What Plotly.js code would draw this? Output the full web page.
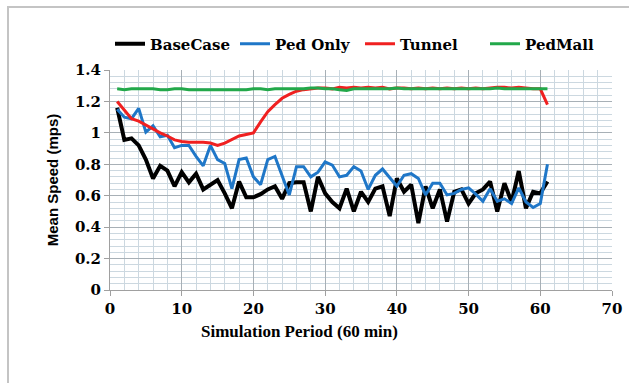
<!DOCTYPE html>
<html>
<head>
<meta charset="utf-8">
<script src="https://cdn.plot.ly/plotly-3.0.1.min.js"></script>
<style>html,body{margin:0;padding:0;background:#fff;}#chart{width:629px;height:383px;}</style>
</head>
<body>
<div id="chart"></div>
<script>
const periods = [1,2,3,4,5,6,7,8,9,10,11,12,13,14,15,16,17,18,19,20,21,22,23,24,25,26,27,28,29,30,31,32,33,34,35,36,37,38,39,40,41,42,43,44,45,46,47,48,49,50,51,52,53,54,55,56,57,58,59,60,61];

const baseCase = [1.16,0.955,0.965,0.92,0.83,0.71,0.79,0.76,0.66,0.75,0.685,0.74,0.64,0.67,0.70,0.615,0.52,0.69,0.59,0.59,0.61,0.64,0.66,0.58,0.68,0.685,0.685,0.50,0.72,0.615,0.56,0.52,0.645,0.50,0.625,0.56,0.645,0.66,0.47,0.71,0.625,0.67,0.425,0.66,0.52,0.64,0.435,0.625,0.64,0.55,0.615,0.64,0.69,0.50,0.68,0.56,0.757,0.52,0.625,0.615,0.69];

const pedOnly = [1.15,1.10,1.09,1.156,1.005,1.045,0.975,0.985,0.905,0.92,0.92,0.85,0.79,0.92,0.83,0.805,0.645,0.83,0.84,0.72,0.67,0.83,0.85,0.73,0.605,0.785,0.785,0.72,0.75,0.815,0.795,0.72,0.73,0.785,0.757,0.64,0.73,0.77,0.715,0.66,0.73,0.74,0.71,0.605,0.68,0.68,0.605,0.615,0.64,0.65,0.61,0.565,0.645,0.565,0.58,0.55,0.65,0.56,0.525,0.55,0.80];

const tunnel = [1.20,1.145,1.09,1.075,1.05,1.02,1.0,0.98,0.955,0.945,0.94,0.94,0.94,0.935,0.92,0.935,0.955,0.98,0.99,1.0,1.07,1.135,1.18,1.22,1.245,1.265,1.275,1.28,1.285,1.285,1.28,1.29,1.285,1.29,1.285,1.29,1.285,1.29,1.28,1.285,1.285,1.28,1.285,1.28,1.285,1.28,1.285,1.28,1.285,1.28,1.285,1.28,1.285,1.29,1.29,1.285,1.29,1.285,1.28,1.28,1.18];

const pedMall = [1.28,1.275,1.28,1.28,1.28,1.28,1.275,1.275,1.28,1.28,1.275,1.275,1.275,1.275,1.275,1.275,1.275,1.275,1.275,1.28,1.28,1.275,1.28,1.28,1.28,1.28,1.28,1.285,1.285,1.28,1.28,1.275,1.27,1.28,1.28,1.28,1.28,1.28,1.28,1.285,1.28,1.28,1.28,1.28,1.28,1.28,1.28,1.28,1.28,1.28,1.28,1.28,1.28,1.285,1.28,1.28,1.28,1.28,1.28,1.28,1.28];

const seriesNames = ['BaseCase','Ped Only','Tunnel','PedMall'];
const seriesColors = ['#000000','#1f77c8','#f02020','#22a84a'];
const seriesWidths = [4,3,3,3];
const seriesData = [baseCase, pedOnly, tunnel, pedMall];

const traces = seriesData.map((vals,i)=>({
  x: periods, y: vals, type:'scatter', mode:'lines', name: seriesNames[i],
  line:{color: seriesColors[i], width: seriesWidths[i]}
}));

const tickF = {family:'"DejaVu Serif", serif', size:15, color:'#000', weight:'bold'};

const layout = {
  width:629, height:383,
  margin:{l:110, r:17, t:70, b:93},
  paper_bgcolor:'#fff', plot_bgcolor:'#fff',
  showlegend:true,
  legend:{orientation:'h', x:0.0, xanchor:'left', y:1.118, yanchor:'middle',
    font:{family:'"DejaVu Serif", serif', size:15, color:'#000', weight:'bold'},
    bgcolor:'rgba(0,0,0,0)', itemwidth:30, tracegroupgap:0,
    entrywidth:80, entrywidthmode:'pixels'},
  xaxis:{range:[0,70], dtick:10, tick0:0, showgrid:true, gridcolor:'#a8b0b6', gridwidth:1,
    minor:{dtick:2, showgrid:true, gridcolor:'#ccd8e0', gridwidth:1},
    zeroline:false, showline:true, linecolor:'#a0a0a0', linewidth:1,
    ticks:'outside', ticklen:5, tickcolor:'#a0a0a0',
    tickfont:tickF, fixedrange:true},
  yaxis:{range:[0,1.4], dtick:0.2, tick0:0, showgrid:true, gridcolor:'#a8b0b6', gridwidth:1,
    minor:{dtick:0.04, showgrid:true, gridcolor:'#ccd8e0', gridwidth:1},
    zeroline:false, showline:true, linecolor:'#a0a0a0', linewidth:1,
    ticks:'outside', ticklen:5, tickcolor:'#a0a0a0',
    tickfont:tickF, tickformat:'~r',
    title:{text:'Mean Speed (mps)', font:{family:'"Liberation Sans", Arial, sans-serif', size:15, color:'#000', weight:'bold'}, standoff:12},
    fixedrange:true},
  annotations:[{
    text:'Simulation Period (60 min)', xref:'paper', yref:'paper',
    x:0.378, y:-0.19, xanchor:'center', yanchor:'middle', showarrow:false,
    font:{family:'"Liberation Serif", serif', size:17, color:'#000', weight:'bold'}
  }],
  shapes:[{type:'rect', xref:'paper', yref:'paper',
    x0:-102/502, x1:1.2, y0:-1.0, y1:(383-7-93)/220,
    line:{color:'#c4c4c4', width:2}, fillcolor:'rgba(0,0,0,0)', layer:'below'}]
};

Plotly.newPlot('chart', traces, layout, {displayModeBar:false, staticPlot:true});
</script>
</body>
</html>
